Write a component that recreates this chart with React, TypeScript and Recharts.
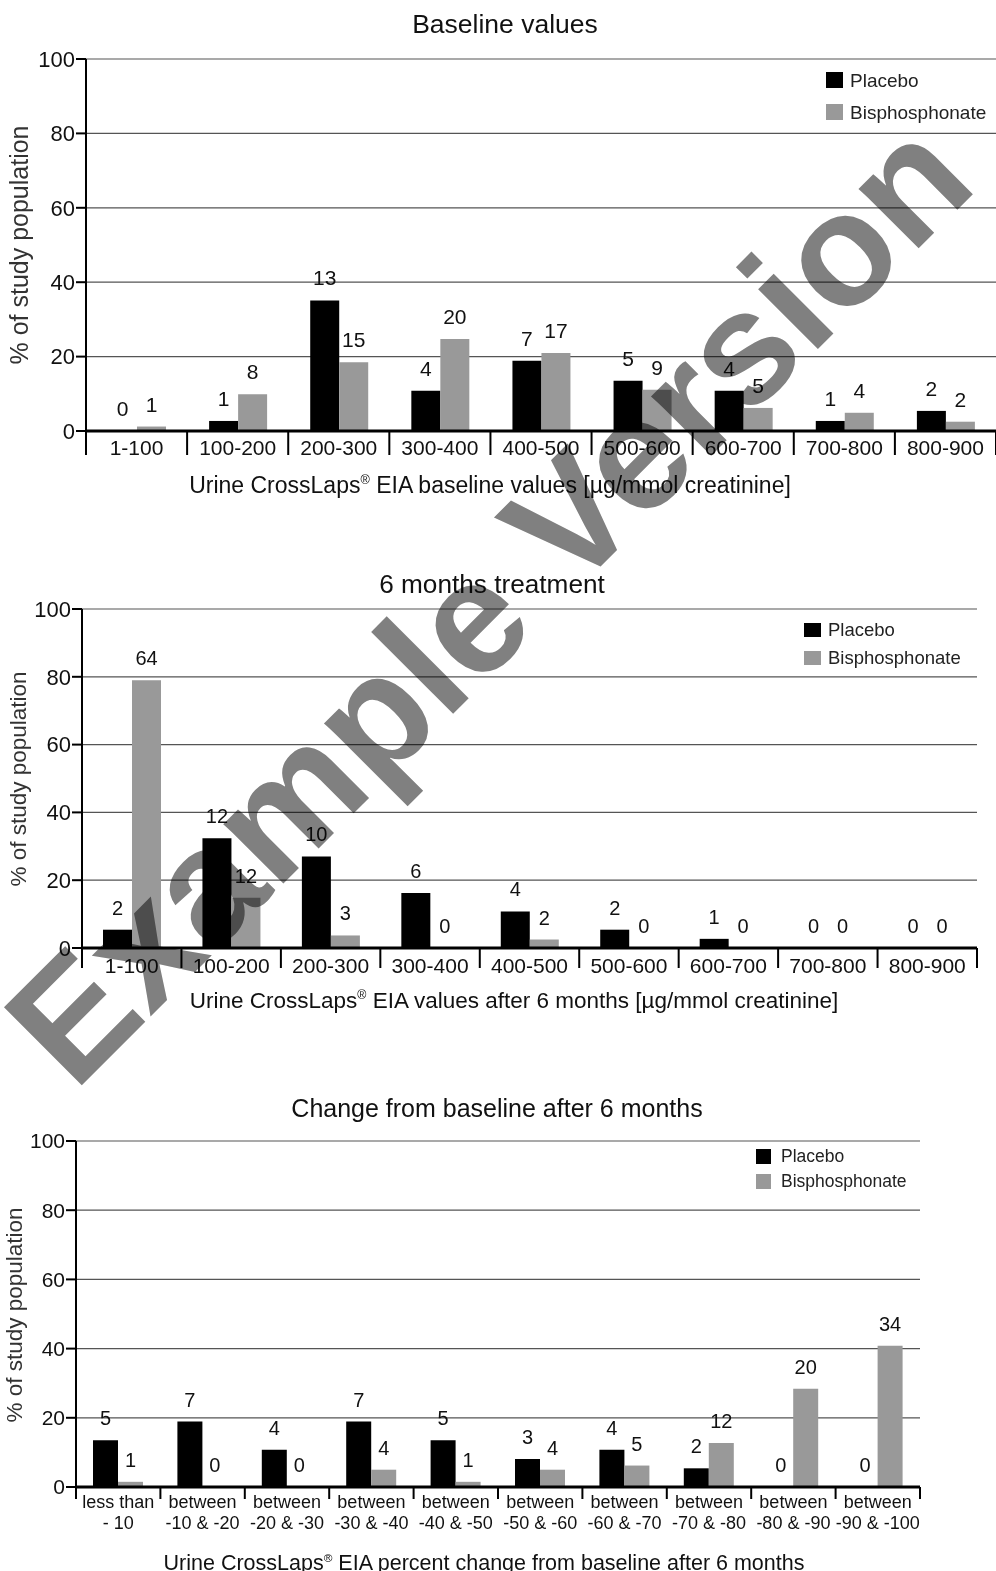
import React from 'react'
import { Bar, BarChart, CartesianGrid, LabelList, Legend, XAxis, YAxis } from 'recharts'

const FONT = '"Liberation Sans", Arial, sans-serif'

// Baseline values
const baselineBins = ['1-100', '100-200', '200-300', '300-400', '400-500', '500-600', '600-700', '700-800', '800-900']
const baselinePlacebo = [0, 2.7, 35.1, 10.8, 18.9, 13.5, 10.8, 2.7, 5.4]
const baselineBisph = [1.2, 9.9, 18.5, 24.7, 21.0, 11.1, 6.2, 4.9, 2.5]
const baselinePlaceboN = [0, 1, 13, 4, 7, 5, 4, 1, 2]
const baselineBisphN = [1, 8, 15, 20, 17, 9, 5, 4, 2]

// 6 months treatment
const sixMonthBins = ['1-100', '100-200', '200-300', '300-400', '400-500', '500-600', '600-700', '700-800', '800-900']
const sixMonthPlacebo = [5.4, 32.4, 27.0, 16.2, 10.8, 5.4, 2.7, 0, 0]
const sixMonthBisph = [79.0, 14.8, 3.7, 0, 2.5, 0, 0, 0, 0]
const sixMonthPlaceboN = [2, 12, 10, 6, 4, 2, 1, 0, 0]
const sixMonthBisphN = [64, 12, 3, 0, 2, 0, 0, 0, 0]

// change from baseline
const changeBins = [
  'less than\n- 10',
  'between\n-10 & -20',
  'between\n-20 & -30',
  'between\n-30 & -40',
  'between\n-40 & -50',
  'between\n-50 & -60',
  'between\n-60 & -70',
  'between\n-70 & -80',
  'between\n-80 & -90',
  'between\n-90 & -100',
]
const changePlacebo = [13.5, 18.9, 10.8, 18.9, 13.5, 8.1, 10.8, 5.4, 0, 0]
const changeBisph = [1.5, 0, 0, 5.0, 1.5, 5.0, 6.2, 12.7, 28.4, 40.8]
const changePlaceboN = [5, 7, 4, 7, 5, 3, 4, 2, 0, 0]
const changeBisphN = [1, 0, 0, 4, 1, 4, 5, 12, 20, 34]

const yTicks = [0, 20, 40, 60, 80, 100]
const legendOrder = ['Placebo', 'Bisphosphonate']

function toRows(bins: string[], p: number[], b: number[], pn: number[], bn: number[]) {
  return bins.map((bin, i) => ({ bin, placebo: p[i], bisph: b[i], pn: pn[i], bn: bn[i] }))
}

function BinTick(props: any) {
  const { x, y, index, payload, band, count, sepLen, fontSize, lineY } = props
  const lines = String(payload.value).split('\n')
  const left = x - band / 2
  return (
    <g>
      <line x1={left} x2={left} y1={y} y2={y + sepLen} stroke="#000" strokeWidth={2} />
      {index === count - 1 && (
        <line x1={left + band} x2={left + band} y1={y} y2={y + sepLen} stroke="#000" strokeWidth={2} />
      )}
      <text textAnchor="middle" fontSize={fontSize} fill="#111">
        {lines.map((l: string, i: number) => (
          <tspan key={i} x={x} y={y + lineY[i]}>
            {l}
          </tspan>
        ))}
      </text>
    </g>
  )
}

function LegendBox({ payload, sqW, sqH, fontSize, pitch, gap }: any) {
  const items = [...(payload || [])].sort((a: any, b: any) => legendOrder.indexOf(a.value) - legendOrder.indexOf(b.value))
  return (
    <div style={{ fontFamily: FONT }}>
      {items.map((p: any) => (
        <div key={p.value} style={{ display: 'flex', alignItems: 'center', height: pitch }}>
          <span style={{ display: 'inline-block', width: sqW, height: sqH, background: p.color, marginRight: gap }} />
          <span style={{ fontSize, color: '#222', lineHeight: 1 }}>{p.value}</span>
        </div>
      ))}
    </div>
  )
}

function valueLabel(fontSize: number, lift: number) {
  return (props: any) => {
    const { x, y, width, value } = props
    return (
      <text x={Number(x) + Number(width) / 2} y={Number(y) - lift} textAnchor="middle" fontSize={fontSize} fill="#111">
        {value}
      </text>
    )
  }
}

interface PanelCfg {
  top: number
  height: number
  plotLeft: number
  plotRight: number
  plotTop: number
  plotBottom: number
  barSize: number
  yFont: number
  xFont: number
  lineY: number[]
  sepLen: number
  labelFont: number
  legend: { left: number; top: number; sqW: number; sqH: number; fontSize: number; pitch: number; gap: number }
}

function Panel({ cfg, bins, p, b, pn, bn }: { cfg: PanelCfg; bins: string[]; p: number[]; b: number[]; pn: number[]; bn: number[] }) {
  const data = toRows(bins, p, b, pn, bn)
  const width = 996
  const band = (cfg.plotRight - cfg.plotLeft) / bins.length
  return (
    <div style={{ position: 'absolute', left: 0, top: cfg.top }}>
      <BarChart
        width={width}
        height={cfg.height}
        data={data}
        barGap={0}
        margin={{ top: cfg.plotTop, right: width - cfg.plotRight, bottom: 0, left: 0 }}
      >
        <CartesianGrid vertical={false} stroke="#555" strokeWidth={1.2} />
        <XAxis
          dataKey="bin"
          height={cfg.height - cfg.plotBottom}
          interval={0}
          tickLine={false}
          tickSize={0}
          tickMargin={0}
          axisLine={{ stroke: '#000', strokeWidth: 3 }}
          tick={<BinTick band={band} count={bins.length} sepLen={cfg.sepLen} fontSize={cfg.xFont} lineY={cfg.lineY} />}
        />
        <YAxis
          width={cfg.plotLeft}
          domain={[0, 100]}
          ticks={yTicks}
          interval={0}
          tickSize={10}
          tickMargin={1}
          tickLine={{ stroke: '#000', strokeWidth: 2 }}
          axisLine={{ stroke: '#000', strokeWidth: 2 }}
          tick={{ fontSize: cfg.yFont, fill: '#111' }}
        />
        <Legend
          layout="vertical"
          align="center"
          verticalAlign="middle"
          wrapperStyle={{ left: cfg.legend.left, top: cfg.legend.top, width: 'auto', height: 'auto' }}
          content={(props: any) => <LegendBox {...props} {...cfg.legend} />}
        />
        <Bar dataKey="placebo" name="Placebo" fill="#000" barSize={cfg.barSize} minPointSize={0.01} isAnimationActive={false}>
          <LabelList dataKey="pn" content={valueLabel(cfg.labelFont, 15)} />
        </Bar>
        <Bar dataKey="bisph" name="Bisphosphonate" fill="#999" barSize={cfg.barSize} minPointSize={0.01} isAnimationActive={false}>
          <LabelList dataKey="bn" content={valueLabel(cfg.labelFont, 15)} />
        </Bar>
      </BarChart>
    </div>
  )
}

const panel1: PanelCfg = {
  top: 0,
  height: 520,
  plotLeft: 86,
  plotRight: 996,
  plotTop: 59,
  plotBottom: 431,
  barSize: 29,
  yFont: 22,
  xFont: 21,
  lineY: [24],
  sepLen: 24,
  labelFont: 21,
  legend: { left: 826, top: 64, sqW: 17, sqH: 16, fontSize: 19, pitch: 32, gap: 7 },
}

const panel2: PanelCfg = {
  top: 540,
  height: 490,
  plotLeft: 82,
  plotRight: 977,
  plotTop: 69,
  plotBottom: 408,
  barSize: 29,
  yFont: 22,
  xFont: 21,
  lineY: [25],
  sepLen: 20,
  labelFont: 20,
  legend: { left: 804, top: 76, sqW: 17, sqH: 14, fontSize: 18.5, pitch: 28, gap: 7 },
}

const panel3: PanelCfg = {
  top: 1070,
  height: 501,
  plotLeft: 76,
  plotRight: 920,
  plotTop: 71,
  plotBottom: 417,
  barSize: 25,
  yFont: 21,
  xFont: 18,
  lineY: [21, 42],
  sepLen: 12,
  labelFont: 20,
  legend: { left: 756, top: 74, sqW: 15, sqH: 15, fontSize: 17.5, pitch: 25, gap: 10 },
}

function AxisTitle({ x, y, size, rest }: { x: number; y: number; size: number; rest: string }) {
  return (
    <text x={x} y={y} textAnchor="middle" fontSize={size} fill="#111">
      Urine CrossLaps
      <tspan fontSize={size * 0.55} dy={-size * 0.38}>®</tspan>
      <tspan dy={size * 0.38}>{rest}</tspan>
    </text>
  )
}

function YTitle({ x, y, size }: { x: number; y: number; size: number }) {
  return (
    <text transform={`translate(${x},${y}) rotate(-90)`} textAnchor="middle" fontSize={size} fill="#333">
      % of study population
    </text>
  )
}

export default function App() {
  return (
    <div style={{ position: 'absolute', left: 0, top: 0, width: 996, height: 1571, background: '#fff', fontFamily: FONT, overflow: 'hidden' }}>
      <Panel cfg={panel1} bins={baselineBins} p={baselinePlacebo} b={baselineBisph} pn={baselinePlaceboN} bn={baselineBisphN} />
      <Panel cfg={panel2} bins={sixMonthBins} p={sixMonthPlacebo} b={sixMonthBisph} pn={sixMonthPlaceboN} bn={sixMonthBisphN} />
      <Panel cfg={panel3} bins={changeBins} p={changePlacebo} b={changeBisph} pn={changePlaceboN} bn={changeBisphN} />
      <svg width={996} height={1571} style={{ position: 'absolute', left: 0, top: 0, pointerEvents: 'none' }}>
        <text x={505} y={33} textAnchor="middle" fontSize={26.5} fill="#111">Baseline values</text>
        <text x={492} y={593} textAnchor="middle" fontSize={26.2} fill="#111">6 months treatment</text>
        <text x={497} y={1117} textAnchor="middle" fontSize={25} fill="#111">Change from baseline after 6 months</text>
        <YTitle x={28} y={245} size={25} />
        <YTitle x={26} y={779} size={22.5} />
        <YTitle x={22} y={1315} size={22.5} />
        <AxisTitle x={490} y={493} size={23} rest=" EIA baseline values [µg/mmol creatinine]" />
        <AxisTitle x={514} y={1008} size={22.5} rest=" EIA values after 6 months [µg/mmol creatinine]" />
        <AxisTitle x={484} y={1570} size={21.5} rest=" EIA percent change from baseline after 6 months" />
      </svg>
      <svg width={996} height={1571} style={{ position: 'absolute', left: 0, top: 0, pointerEvents: 'none', mixBlendMode: 'multiply' }}>
        <text
          x={527}
          y={640}
          transform="rotate(-45 527 640)"
          textAnchor="middle"
          fontSize={160}
          fontWeight="bold"
          fill="#808080"
        >
          Example Version
        </text>
      </svg>
    </div>
  )
}
